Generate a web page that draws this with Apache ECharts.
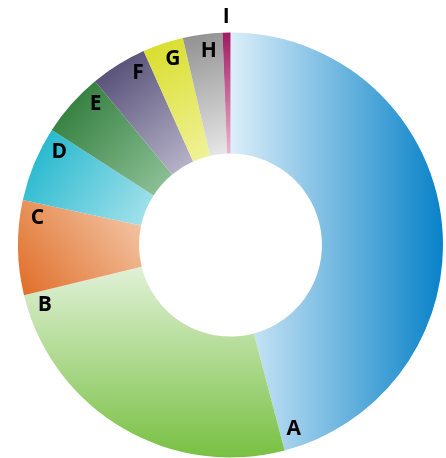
<!DOCTYPE html>
<html>
<head>
<meta charset="utf-8">
<script src="https://cdn.jsdelivr.net/npm/echarts@6/dist/echarts.min.js"></script>
<style>
html,body{margin:0;padding:0;background:#fff;}
#chart{width:446px;height:458px;}
</style>
</head>
<body>
<div id="chart"></div>
<script>
// Data
const categories = ['A','B','C','D','E','F','G','H','I'];
const values = [45.9, 25.3, 7.2, 5.7, 4.9, 4.3, 3.1, 3.0, 0.6];

// Styles (gradient per slice: [x, y, x2, y2, startColor, endColor])
const gradients = [
  [0, 0, 1, 0, '#dceef9', '#0882c8'],
  [0, 0, 0, 1, '#e1f1d8', '#78c042'],
  [1, 0, 0, 1, '#f4ccae', '#e06c26'],
  [0, 0, 1, 1, '#12b2ca', '#ace4ec'],
  [0, 0, 1, 1, '#23722e', '#94c69e'],
  [0, 0, 1, 1, '#48416c', '#bebace'],
  [0, 0, 1, 1, '#d8dc24', '#f0f39c'],
  [0, 0, 1, 1, '#8e8e8e', '#e8e8e8'],
  [0, 0, 0, 1, '#a01a62', '#ecb4d0']
];

const CX = 230.5, CY = 245, R_OUT = 212.5, R_IN = 91.5, R_POLAR = 250;
const total = values.reduce((a, b) => a + b, 0);

const pieData = categories.map((c, i) => {
  const g = gradients[i];
  return {
    name: c,
    value: values[i],
    itemStyle: {
      color: new echarts.graphic.LinearGradient(g[0], g[1], g[2], g[3], [
        { offset: 0, color: g[4] },
        { offset: 1, color: g[5] }
      ])
    }
  };
});

// label positions derived from cumulative data (near slice end)
let cum = 0;
const labelData = categories.map((c, i) => {
  cum += values[i];
  const small = values[i] < 1;
  const ang = small ? cum - values[i] / 2 : cum - total * 4.2 / 360;
  const rad = small ? 228 : 195;
  return { name: c, value: [rad, ang] };
});

const chart = echarts.init(document.getElementById('chart'));
chart.setOption({
  animation: false,
  backgroundColor: '#ffffff',
  polar: { center: [CX, CY], radius: [0, R_POLAR] },
  angleAxis: {
    type: 'value', min: 0, max: total, startAngle: 90, clockwise: true,
    show: false
  },
  radiusAxis: { type: 'value', min: 0, max: R_POLAR, show: false },
  series: [
    {
      type: 'pie',
      center: [CX, CY],
      radius: [R_IN, R_OUT],
      startAngle: 90,
      clockwise: true,
      avoidLabelOverlap: false,
      label: { show: false },
      labelLine: { show: false },
      itemStyle: { borderWidth: 0 },
      emphasis: { disabled: true },
      data: pieData
    },
    {
      type: 'scatter',
      coordinateSystem: 'polar',
      symbolSize: 0,
      itemStyle: { color: 'rgba(0,0,0,0)' },
      silent: true,
      clip: false,
      z: 10,
      label: {
        show: true,
        position: 'inside',
        formatter: p => p.name,
        color: '#000000',
        opacity: 1,
        textBorderWidth: 0,
        textBorderColor: 'rgba(0,0,0,0)',
        fontFamily: 'Open Sans',
        fontWeight: 700,
        fontSize: 21
      },
      data: labelData
    }
  ]
});
</script>
</body>
</html>
